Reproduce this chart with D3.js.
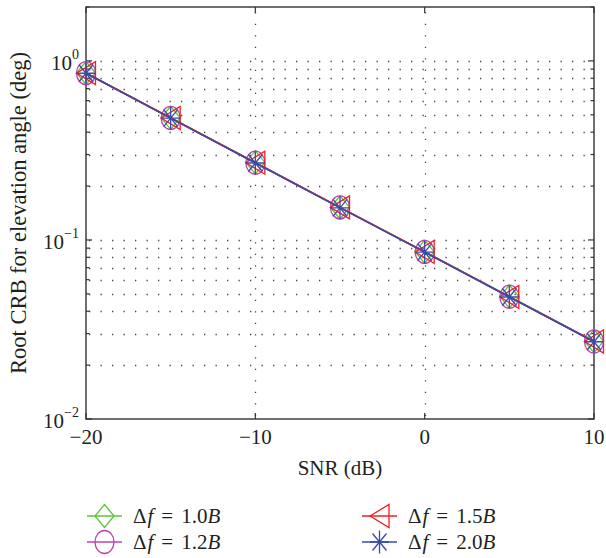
<!DOCTYPE html>
<html>
<head>
<meta charset="utf-8">
<script src="https://cdn.jsdelivr.net/npm/d3@7"></script>
<style>
  html, body { margin: 0; padding: 0; background: #fff; }
  svg { display: block; font-family: "Liberation Serif", "DejaVu Serif", serif; }
</style>
</head>
<body>
<svg id="chart" width="606" height="558"></svg>
<script>
// SNR sweep (dB) and root CRB of the elevation angle (deg) for each frequency spacing
const snr = [-20, -15, -10, -5, 0, 5, 10];
const crb10 = [0.856, 0.481, 0.271, 0.152, 0.0860, 0.0483, 0.0272];
const crb12 = [0.855, 0.480, 0.270, 0.152, 0.0858, 0.0482, 0.0271];
const crb15 = [0.854, 0.480, 0.270, 0.152, 0.0857, 0.0481, 0.0271];
const crb20 = [0.853, 0.479, 0.269, 0.151, 0.0855, 0.0480, 0.0270];

const seriesLabels = ["1.0", "1.2", "1.5", "2.0"];
const seriesColors = ["#5cc43a", "#c040b0", "#f02020", "#3a4aa8"];
const seriesMarkers = ["diamond", "circle", "triangleLeft", "asterisk"];

const xTicks = [-20, -10, 0, 10];
const yMajor = [0.01, 0.1, 1];
const yExp = ["\u22122", "\u22121", "0"];

const svg = d3.select("#chart");
const plotLeft = 86, plotRight = 594, plotTop = 7, plotBottom = 419;
const textColor = "#231f20";

const x = d3.scaleLinear().domain([-20, 10]).range([plotLeft, plotRight]);
const y = d3.scaleLog().domain([0.01, 2]).range([plotBottom, plotTop]);

// minor values of the log axis: 2..9 in each decade, plus 2 at the top
const yMinor = [];
[0.01, 0.1, 1].forEach(d => {
  for (let k = 2; k <= 9; k++) {
    const v = d * k;
    if (v <= 2.0001) yMinor.push(v);
  }
});

// dotted grid
const grid = svg.append("g").attr("stroke", "#444").attr("stroke-width", 1.3)
  .attr("stroke-dasharray", "1.3,10.2").attr("fill", "none");
yMinor.concat(yMajor).forEach(v => {
  const yy = Math.round(y(v)) + 0.5;
  if (yy <= plotTop + 1 || yy >= plotBottom - 1) return;
  grid.append("line").attr("x1", plotLeft + 3).attr("x2", plotRight).attr("y1", yy).attr("y2", yy);
});
xTicks.forEach(v => {
  const xx = Math.round(x(v)) + 0.5;
  if (xx <= plotLeft + 1 || xx >= plotRight - 1) return;
  grid.append("line").attr("x1", xx).attr("x2", xx).attr("y1", plotBottom - 3).attr("y2", plotTop);
});

// tick marks on all four sides, pointing inward
const ticks = svg.append("g").attr("stroke", "#333").attr("stroke-width", 1.2);
xTicks.forEach(v => {
  const xx = x(v);
  ticks.append("line").attr("x1", xx).attr("x2", xx).attr("y1", plotBottom).attr("y2", plotBottom - 6);
  ticks.append("line").attr("x1", xx).attr("x2", xx).attr("y1", plotTop).attr("y2", plotTop + 6);
});
yMajor.forEach(v => {
  const yy = y(v);
  ticks.append("line").attr("x1", plotLeft).attr("x2", plotLeft + 6).attr("y1", yy).attr("y2", yy);
  ticks.append("line").attr("x1", plotRight).attr("x2", plotRight - 6).attr("y1", yy).attr("y2", yy);
});
yMinor.forEach(v => {
  const yy = y(v);
  ticks.append("line").attr("x1", plotLeft).attr("x2", plotLeft + 3.5).attr("y1", yy).attr("y2", yy);
  ticks.append("line").attr("x1", plotRight).attr("x2", plotRight - 3.5).attr("y1", yy).attr("y2", yy);
});

// axes box
svg.append("rect").attr("x", plotLeft).attr("y", plotTop)
  .attr("width", plotRight - plotLeft).attr("height", plotBottom - plotTop)
  .attr("fill", "none").attr("stroke", "#333").attr("stroke-width", 1.4);

// x tick labels
svg.append("g").selectAll("text").data(xTicks).join("text")
  .attr("x", d => x(d)).attr("y", plotBottom + 25)
  .attr("text-anchor", "middle").attr("font-size", 21).attr("fill", textColor)
  .text(d => d < 0 ? "\u2212" + Math.abs(d) : String(d));

// y tick labels as powers of ten
yMajor.forEach((v, i) => {
  const t = svg.append("text").attr("x", 79).attr("y", y(v) + 9)
    .attr("text-anchor", "end").attr("font-size", 21).attr("fill", textColor);
  t.append("tspan").text("10");
  t.append("tspan").attr("dy", -11).attr("font-size", 14).text(yExp[i]);
});

// axis titles
svg.append("text").attr("x", 340).attr("y", 475)
  .attr("text-anchor", "middle").attr("font-size", 21).attr("fill", textColor)
  .text("SNR (dB)");
svg.append("text")
  .attr("transform", `translate(26,${(plotTop + plotBottom) / 2}) rotate(-90)`)
  .attr("text-anchor", "middle").attr("font-size", 22.5).attr("fill", textColor)
  .text("Root CRB for elevation angle (deg)");

// marker shapes
function markerPath(type) {
  const w = 9.5, h = 11.5;
  switch (type) {
    case "diamond": return `M0,${-h}L${w},0L0,${h}L${-w},0Z`;
    case "circle": return `M${-w},0A${w},${h} 0 1,0 ${w},0A${w},${h} 0 1,0 ${-w},0Z`;
    case "triangleLeft": return `M${-w},0L${w},${-h}L${w},${h}Z`;
    case "asterisk": {
      const a = 7, b = 8.5;
      return `M${-w},0L${w},0M0,${-h}L0,${h}M${-a},${-b}L${a},${b}M${-a},${b}L${a},${-b}`;
    }
  }
}

const allSeries = [crb10, crb12, crb15, crb20];
const line = d3.line().x((d, i) => x(snr[i])).y(d => y(d));

allSeries.forEach((vals, s) => {
  const g = svg.append("g");
  g.append("path").datum(vals).attr("d", line)
    .attr("fill", "none").attr("stroke", seriesColors[s]).attr("stroke-width", 1.6);
  g.selectAll("path.m").data(vals).join("path").attr("class", "m")
    .attr("transform", (d, i) => `translate(${x(snr[i])},${y(d)})`)
    .attr("d", markerPath(seriesMarkers[s]))
    .attr("fill", "none").attr("stroke", seriesColors[s]).attr("stroke-width", 1.3);
});

// legend
const legendPos = [[87, 516], [87, 542], [362, 516], [362, 542]];
seriesLabels.forEach((lab, s) => {
  const [lx, ly] = legendPos[s];
  const g = svg.append("g");
  g.append("line").attr("x1", lx).attr("x2", lx + 35).attr("y1", ly).attr("y2", ly)
    .attr("stroke", seriesColors[s]).attr("stroke-width", 1.6);
  g.append("path").attr("transform", `translate(${lx + 17.5},${ly})`)
    .attr("d", markerPath(seriesMarkers[s]))
    .attr("fill", "none").attr("stroke", seriesColors[s]).attr("stroke-width", 1.3);
  const t = g.append("text").attr("x", lx + 46).attr("y", ly + 7)
    .attr("font-size", 21).attr("fill", textColor);
  t.append("tspan").text("\u0394");
  t.append("tspan").attr("font-style", "italic").attr("dx", 1).text("f");
  t.append("tspan").attr("dx", 8).text("=");
  t.append("tspan").attr("dx", 8).text(lab);
  t.append("tspan").attr("font-style", "italic").text("B");
});
</script>
</body>
</html>
